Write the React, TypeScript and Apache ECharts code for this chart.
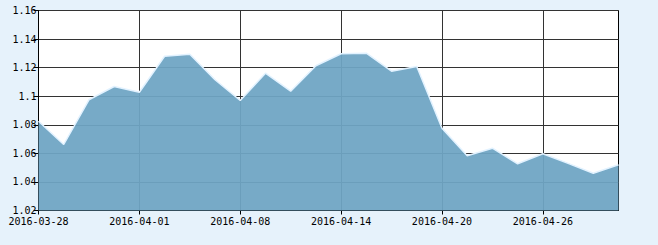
import React, { useEffect, useRef } from "react";
import * as echarts from "echarts";

const dates = [
  "2016-03-28", "2016-03-29", "2016-03-30", "2016-03-31", "2016-04-01",
  "2016-04-05", "2016-04-06", "2016-04-07", "2016-04-08", "2016-04-11",
  "2016-04-12", "2016-04-13", "2016-04-14", "2016-04-15", "2016-04-18",
  "2016-04-19", "2016-04-20", "2016-04-21", "2016-04-22", "2016-04-25",
  "2016-04-26", "2016-04-27", "2016-04-28", "2016-04-29",
];
const values = [
  1.0825, 1.0662, 1.0975, 1.1068, 1.1028,
  1.128, 1.1294, 1.1115, 1.097, 1.1161,
  1.1035, 1.1213, 1.1297, 1.1301, 1.1175,
  1.1208, 1.0776, 1.0583, 1.0636, 1.0527,
  1.0597, 1.0530, 1.0461, 1.052,
];
const yMin = 1.02;
const yMax = 1.16;
const yStep = 0.02;

const font = "'DejaVu Sans Mono', 'Liberation Mono', monospace";

export default function App() {
  const ref = useRef<HTMLDivElement>(null);
  useEffect(() => {
    if (!ref.current) return;
    const chart = echarts.init(ref.current, null, { renderer: "svg" });
    chart.setOption({
      animation: false,
      backgroundColor: "#e6f2fb",
      grid: {
        left: 38.5,
        right: 39.5,
        top: 10.5,
        bottom: 34.5,
        show: true,
        backgroundColor: "#ffffff",
        borderColor: "#000000",
        borderWidth: 1,
        z: 0,
      },
      xAxis: {
        type: "category",
        data: dates,
        boundaryGap: false,
        axisLine: { show: true, lineStyle: { color: "#000", width: 1 } },
        axisTick: { show: true, interval: 3, length: 4, lineStyle: { color: "#000" } },
        axisLabel: {
          interval: 3,
          margin: 6,
          color: "#000",
          fontSize: 10,
          fontFamily: font,
        },
        splitLine: { show: true, interval: 3, lineStyle: { color: "#333", width: 1 } },
      },
      yAxis: {
        type: "value",
        min: yMin,
        max: yMax,
        interval: yStep,
        axisLine: { show: true, lineStyle: { color: "#000", width: 1 } },
        axisTick: { show: true, length: 5, lineStyle: { color: "#000" } },
        axisLabel: {
          margin: 2,
          color: "#000",
          fontSize: 10,
          fontFamily: font,
        },
        splitLine: { show: true, lineStyle: { color: "#333", width: 1 } },
      },
      series: [
        {
          type: "line",
          data: values,
          symbol: "none",
          lineStyle: { color: "#e2f2ff", width: 1.5 },
          areaStyle: { color: "rgb(110,165,195)", opacity: 0.94 },
        },
      ],
    });
    return () => chart.dispose();
  }, []);
  return (
    <div
      ref={ref}
      style={{
        position: "fixed",
        left: 0,
        top: 0,
        width: 658,
        height: 245,
        background: "#e6f2fb",
      }}
    />
  );
}
